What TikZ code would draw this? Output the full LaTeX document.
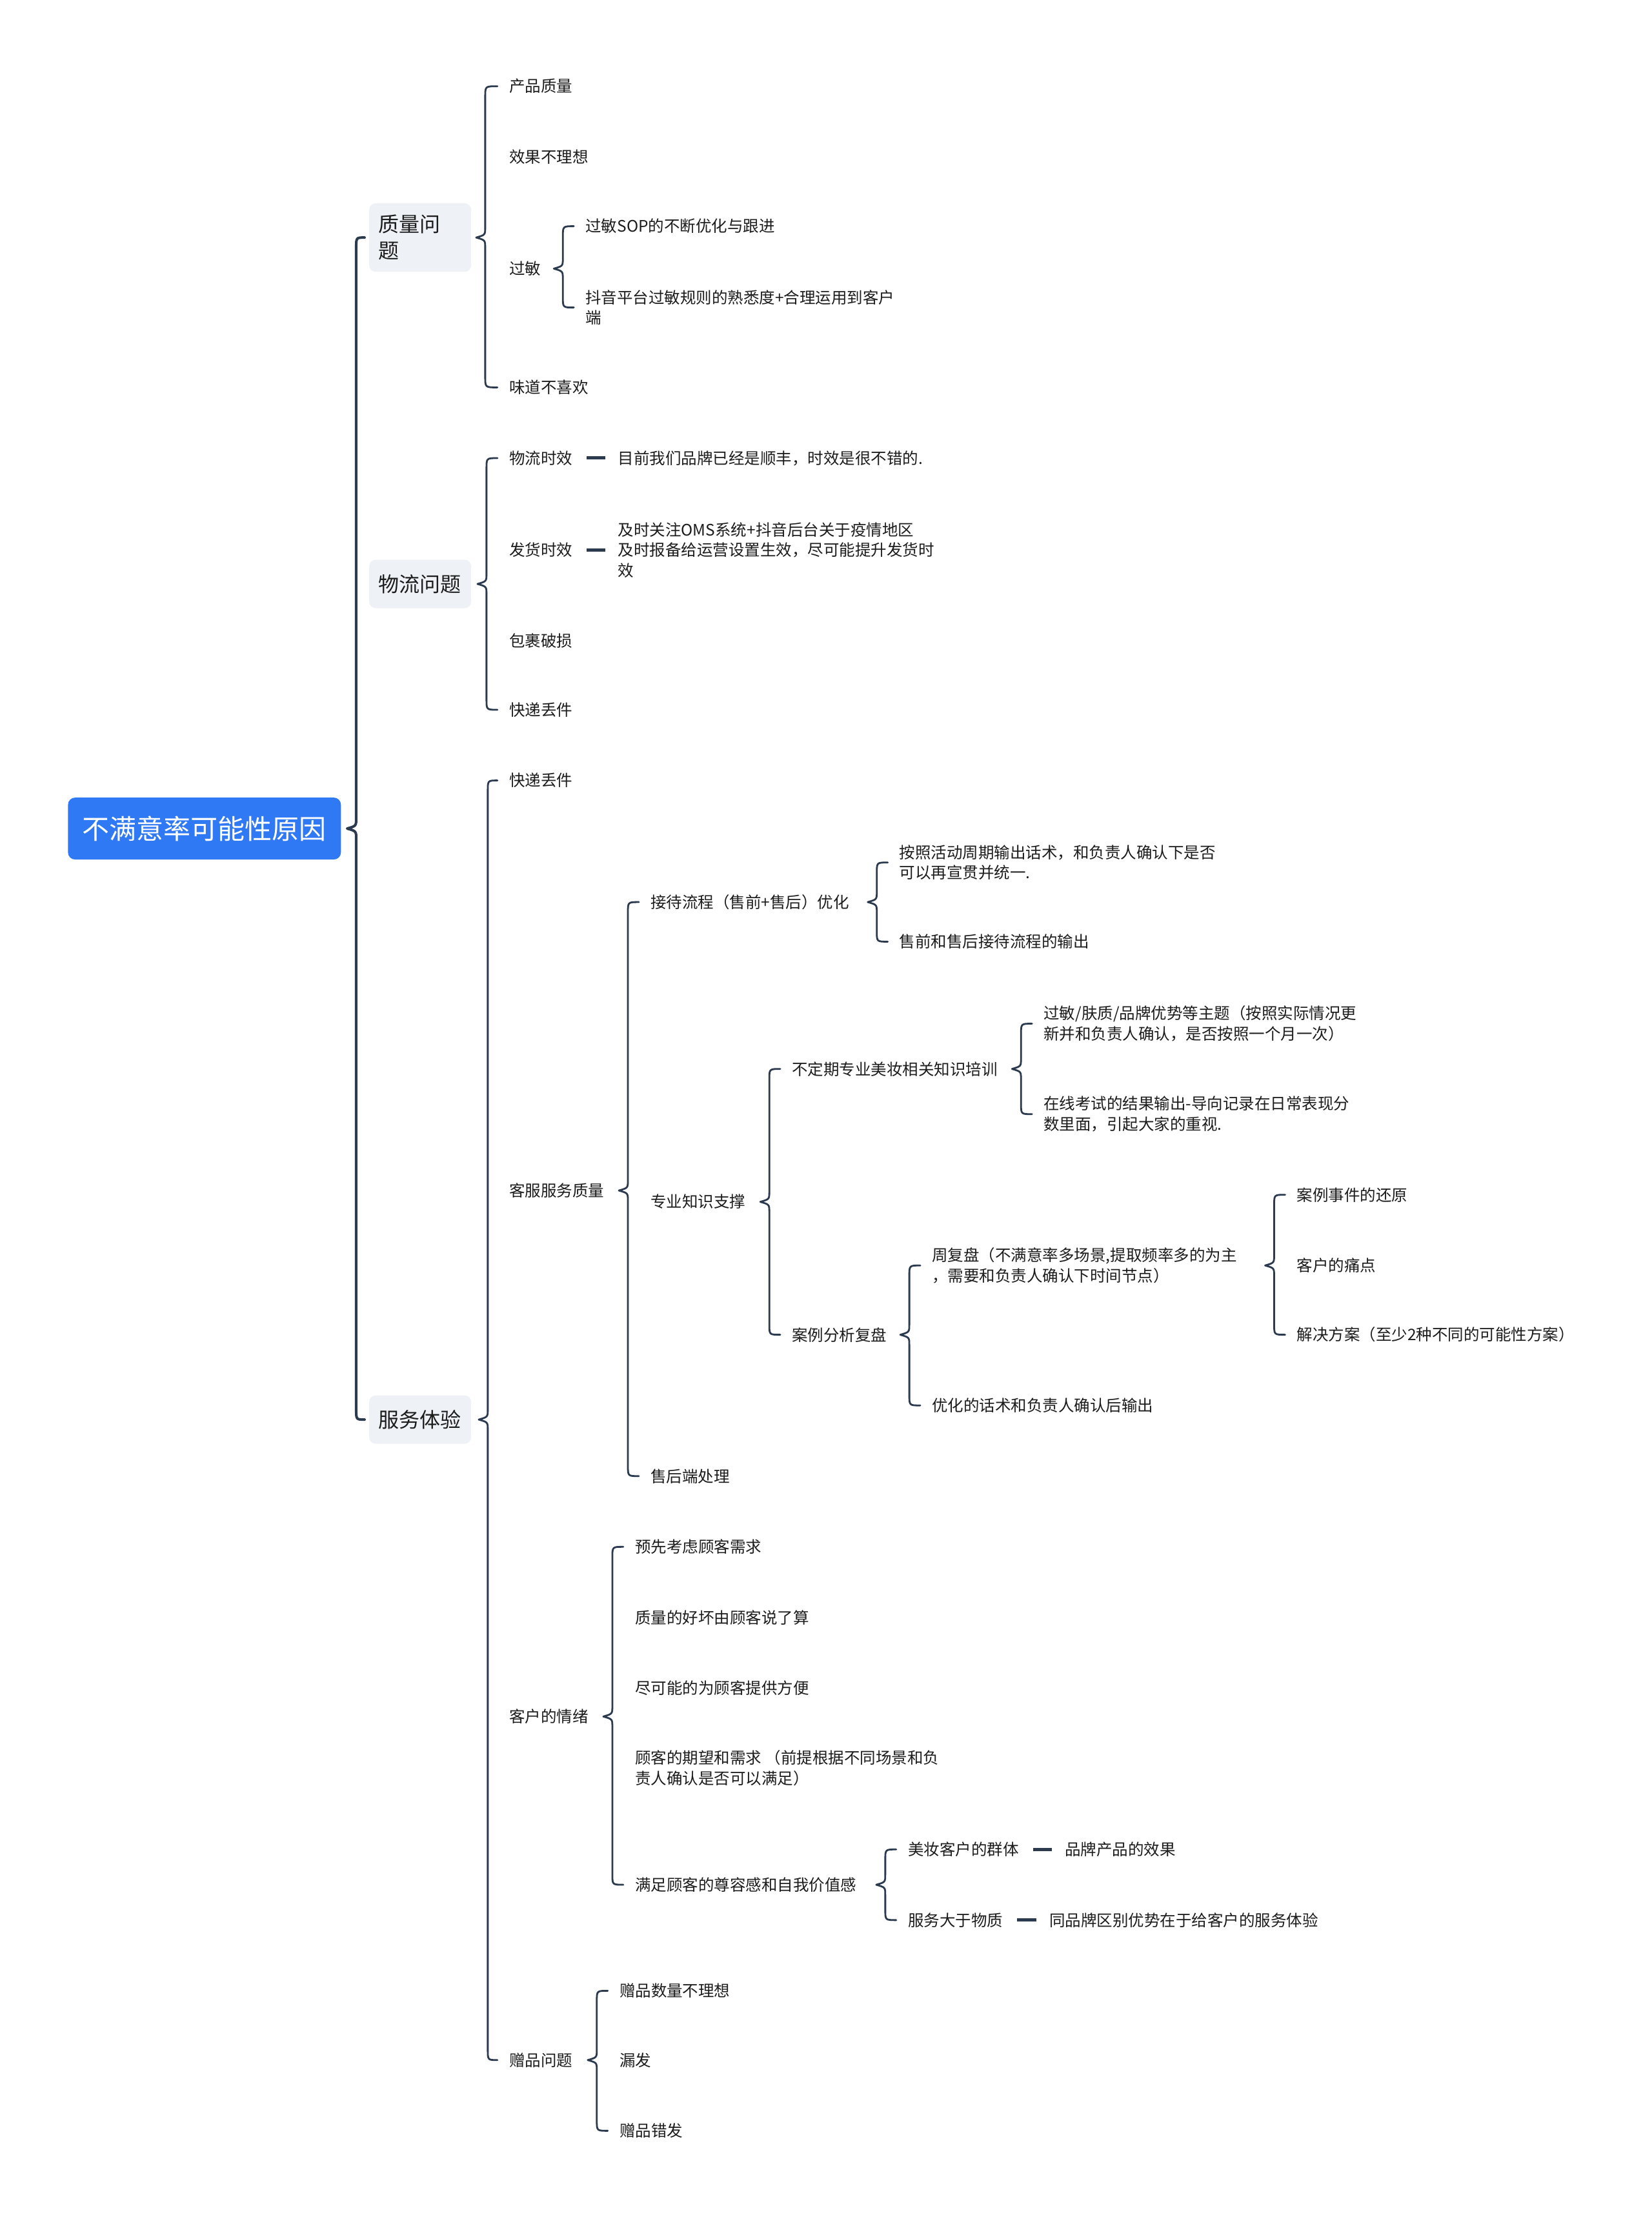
\documentclass[tikz,border=0pt]{standalone}
\usepackage{fontspec}
\setmainfont{Noto Sans CJK SC}
\usetikzlibrary{calc}
\definecolor{lnc}{HTML}{2B3A4E}
\definecolor{txt}{HTML}{1C1C1C}
\definecolor{rootblue}{HTML}{3079F5}
\definecolor{lonefill}{HTML}{EEF1F5}
\tikzset{
  conn/.style={draw=lnc, line width=2.8pt, line cap=round, line join=round},
  rootconn/.style={conn, line width=4pt},
  dashc/.style={draw=lnc, line width=5pt},
  leaf/.style={font=\fontsize{24.5}{31.8}\selectfont, text=txt, inner sep=0pt, anchor=west, align=left},
  lone/.style={fill=lonefill, rounded corners=10pt, font=\fontsize{32}{41}\selectfont, text=txt,
    text width=130pt, inner xsep=14pt, inner ysep=18pt, minimum height=75pt, anchor=west, align=left},
  rootbox/.style={fill=rootblue, rounded corners=11pt, font=\fontsize{42}{50}\selectfont, text=white,
    minimum width=423pt, minimum height=96pt, inner sep=0pt, anchor=west}
}
% brace: parent, first child, last child, vertical offset from child, style, end gap
\newcommand\brc[6]{%
  \draw[#5] let \p1=(#1.east), \p2=(#2.west), \p3=(#3.west) in
  ({\x2-#6},\y2) .. controls ({\x2-#4},\y2) .. ({\x2-#4},{\y2-16pt})
  -- ({\x2-#4},{\y1+16pt}) .. controls ({\x2-#4},{\y1+4pt}) .. ({\x2-#4-14pt},\y1)
  .. controls ({\x2-#4},{\y1-4pt}) .. ({\x2-#4},{\y1-16pt})
  -- ({\x2-#4},{\y3+16pt}) .. controls ({\x2-#4},\y3) .. ({\x2-#6},\y3);}
\newcommand\dsh[2]{\draw[dashc] ($(#1.east)+(10,0)$) -- ($(#1.east -| #2.west)+(-9,0)$);}
\begin{document}
\begin{tikzpicture}[x=2.19178pt,y=-2.19178pt]
\useasboundingbox (0,0) rectangle (1168,1568);
\fill[white] (0,0) rectangle (1168,1568);

% root
\node[rootbox] (root) at (48,586) {不满意率可能性原因};

% level 1
\node[lone] (q) at (261,168) {质量问\\题};
\node[lone] (wl) at (261,413) {物流问题};
\node[lone] (fw) at (261,1004) {服务体验};

% quality
\node[leaf] (q1) at (360,61) {产品质量};
\node[leaf] (q2) at (360,111) {效果不理想};
\node[leaf] (q3) at (360,190) {过敏};
\node[leaf] (q4) at (360,274) {味道不喜欢};
\node[leaf] (q31) at (414,160) {过敏SOP的不断优化与跟进};
\node[leaf] (q32) at (414,217.5) {抖音平台过敏规则的熟悉度+合理运用到客户\\端};

% logistics
\node[leaf] (w1) at (360,324) {物流时效};
\node[leaf] (w1a) at (437,324) {目前我们品牌已经是顺丰，时效是很不错的.};
\node[leaf] (w2) at (360,389) {发货时效};
\node[leaf] (w2a) at (437,389) {及时关注OMS系统+抖音后台关于疫情地区\\及时报备给运营设置生效，尽可能提升发货时\\效};
\node[leaf] (w3) at (360,453) {包裹破损};
\node[leaf] (w4) at (360,502) {快递丢件};

% service
\node[leaf] (f1) at (360,552) {快递丢件};
\node[leaf] (f2) at (360,842) {客服服务质量};
\node[leaf] (f3) at (360,1214) {客户的情绪};
\node[leaf] (f4) at (360,1457) {赠品问题};

\node[leaf] (f21) at (460,638) {接待流程（售前+售后）优化};
\node[leaf] (f22) at (460,850) {专业知识支撑};
\node[leaf] (f23) at (460,1044) {售后端处理};

\node[leaf] (f211) at (636,610) {按照活动周期输出话术，和负责人确认下是否\\可以再宣贯并统一.};
\node[leaf] (f212) at (636,666) {售前和售后接待流程的输出};

\node[leaf] (f221) at (560,756) {不定期专业美妆相关知识培训};
\node[leaf] (f222) at (560,944) {案例分析复盘};

\node[leaf] (f2211) at (738,724) {过敏/肤质/品牌优势等主题（按照实际情况更\\新并和负责人确认，是否按照一个月一次）};
\node[leaf] (f2212) at (738,788) {在线考试的结果输出-导向记录在日常表现分\\数里面，引起大家的重视.};

\node[leaf] (f2221) at (659,895) {周复盘（不满意率多场景,提取频率多的为主\\，需要和负责人确认下时间节点）};
\node[leaf] (f2222) at (659,994) {优化的话术和负责人确认后输出};

\node[leaf] (g1) at (917,845) {案例事件的还原};
\node[leaf] (g2) at (917,895) {客户的痛点};
\node[leaf] (g3) at (917,944) {解决方案（至少2种不同的可能性方案）};

\node[leaf] (f31) at (449,1094) {预先考虑顾客需求};
\node[leaf] (f32) at (449,1144) {质量的好坏由顾客说了算};
\node[leaf] (f33) at (449,1194) {尽可能的为顾客提供方便};
\node[leaf] (f34) at (449,1250.5) {顾客的期望和需求 （前提根据不同场景和负\\责人确认是否可以满足）};
\node[leaf] (f35) at (449,1333) {满足顾客的尊容感和自我价值感};

\node[leaf] (f351) at (642,1308) {美妆客户的群体};
\node[leaf] (f351a) at (753,1308) {品牌产品的效果};
\node[leaf] (f352) at (642,1358) {服务大于物质};
\node[leaf] (f352a) at (742,1358) {同品牌区别优势在于给客户的服务体验};

\node[leaf] (f41) at (438,1408) {赠品数量不理想};
\node[leaf] (f42) at (438,1457) {漏发};
\node[leaf] (f43) at (438,1507) {赠品错发};

% braces
\brc{root}{q}{fw}{20pt}{rootconn}{7pt}
\brc{q}{q1}{q4}{37pt}{conn}{18pt}
\brc{q3}{q31}{q32}{35pt}{conn}{18pt}
\brc{wl}{w1}{w4}{35pt}{conn}{18pt}
\brc{fw}{f1}{f4}{33pt}{conn}{18pt}
\brc{f2}{f21}{f23}{35pt}{conn}{18pt}
\brc{f21}{f211}{f212}{35pt}{conn}{18pt}
\brc{f22}{f221}{f222}{35pt}{conn}{18pt}
\brc{f221}{f2211}{f2212}{35pt}{conn}{18pt}
\brc{f222}{f2221}{f2222}{35pt}{conn}{18pt}
\brc{f2221}{g1}{g3}{35pt}{conn}{18pt}
\brc{f3}{f31}{f35}{35pt}{conn}{18pt}
\brc{f35}{f351}{f352}{35pt}{conn}{18pt}
\brc{f4}{f41}{f43}{35pt}{conn}{18pt}

% dashes
\dsh{w1}{w1a}
\dsh{w2}{w2a}
\dsh{f351}{f351a}
\dsh{f352}{f352a}
\end{tikzpicture}
\end{document}
